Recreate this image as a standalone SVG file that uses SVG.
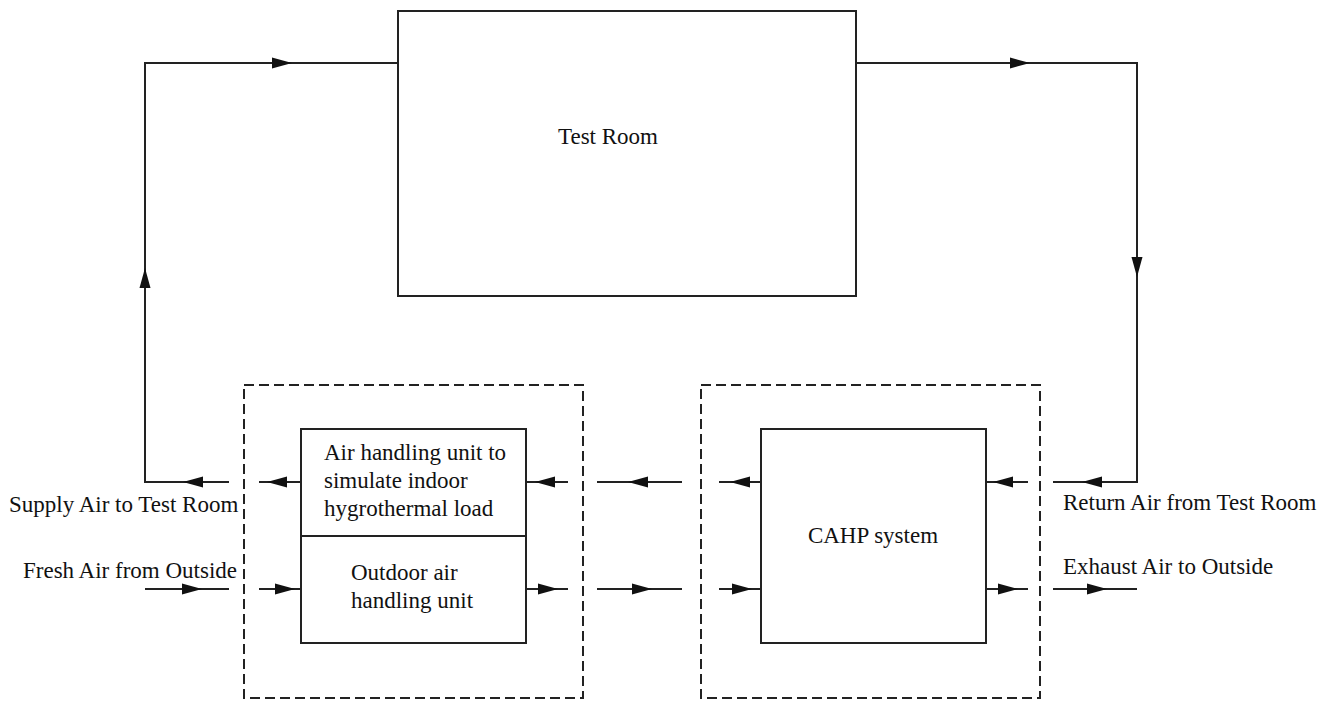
<svg xmlns="http://www.w3.org/2000/svg" xmlns:xlink="http://www.w3.org/1999/xlink" width="1336" height="702" viewBox="0 0 1336 702">
  <style>
    .box { fill: #fff; stroke: #222; stroke-width: 2; }
    .dash { fill: none; stroke: #222; stroke-width: 2; stroke-dasharray: 10 5; }
    .line { fill: none; stroke: #222; stroke-width: 2; }
    .lbl { font-family: "Liberation Serif", "Times New Roman", serif; font-size: 23px; fill: #111; }
    .mid { text-anchor: middle; }
  </style>
  <defs>
    <!-- arrowhead pointing right, tip at origin -->
    <path id="ah" d="M0,0 L-20,-5.5 L-20,5.5 Z" fill="#111"/>
  </defs>

  <rect width="1336" height="702" fill="#fff"/>

  <!-- dashed enclosures -->
  <g id="enclosure-left">
    <rect class="dash" x="244" y="385" width="339" height="313"/>
  </g>
  <g id="enclosure-right">
    <rect class="dash" x="701" y="385" width="339" height="313"/>
  </g>

  <g id="test-room">
    <rect class="box" x="398" y="11" width="458" height="285"/>
    <text class="lbl mid" x="608" y="144">Test Room</text>
  </g>

  <g id="ahu">
    <rect class="box" x="301" y="429" width="225" height="214"/>
    <line class="line" x1="301" y1="536" x2="526" y2="536"/>
    <text class="lbl" x="324" y="460">Air handling unit to</text>
    <text class="lbl" x="324" y="488">simulate indoor</text>
    <text class="lbl" x="324" y="516">hygrothermal load</text>
    <text class="lbl" x="351" y="580">Outdoor air</text>
    <text class="lbl" x="351" y="608">handling unit</text>
  </g>

  <g id="cahp">
    <rect class="box" x="761" y="429" width="225" height="214"/>
    <text class="lbl mid" x="873" y="543">CAHP system</text>
  </g>

  <g id="labels">
    <text class="lbl" x="9" y="512">Supply Air to Test Room</text>
    <text class="lbl" x="23" y="578">Fresh Air from Outside</text>
    <text class="lbl" x="1063" y="510">Return Air from Test Room</text>
    <text class="lbl" x="1063" y="574">Exhaust Air to Outside</text>
  </g>

  <g id="connectors">
    <!-- supply loop up to the test room -->
    <polyline class="line" points="229,482 145,482 145,63 398,63"/>
    <!-- return loop from the test room -->
    <polyline class="line" points="856,63 1137,63 1137,482 1053,482"/>
    <!-- upper (return/supply) air row -->
    <line class="line" x1="259" y1="482" x2="301" y2="482"/>
    <line class="line" x1="526" y1="482" x2="568" y2="482"/>
    <line class="line" x1="597" y1="482" x2="682" y2="482"/>
    <line class="line" x1="719" y1="482" x2="761" y2="482"/>
    <line class="line" x1="986" y1="482" x2="1028" y2="482"/>
    <!-- lower (fresh/exhaust) air row -->
    <line class="line" x1="145" y1="589" x2="229" y2="589"/>
    <line class="line" x1="259" y1="589" x2="301" y2="589"/>
    <line class="line" x1="526" y1="589" x2="568" y2="589"/>
    <line class="line" x1="597" y1="589" x2="682" y2="589"/>
    <line class="line" x1="719" y1="589" x2="761" y2="589"/>
    <line class="line" x1="986" y1="589" x2="1028" y2="589"/>
    <line class="line" x1="1053" y1="589" x2="1137" y2="589"/>

    <!-- arrowheads -->
    <use xlink:href="#ah" transform="translate(292,63)"/>
    <use xlink:href="#ah" transform="translate(1030,63)"/>
    <use xlink:href="#ah" transform="translate(145,268) rotate(-90)"/>
    <use xlink:href="#ah" transform="translate(1137,277) rotate(90)"/>

    <use xlink:href="#ah" transform="translate(1082,482) rotate(180)"/>
    <use xlink:href="#ah" transform="translate(993,482) rotate(180)"/>
    <use xlink:href="#ah" transform="translate(730,482) rotate(180)"/>
    <use xlink:href="#ah" transform="translate(628,482) rotate(180)"/>
    <use xlink:href="#ah" transform="translate(535,482) rotate(180)"/>
    <use xlink:href="#ah" transform="translate(267,482) rotate(180)"/>
    <use xlink:href="#ah" transform="translate(183,482) rotate(180)"/>

    <use xlink:href="#ah" transform="translate(202,589)"/>
    <use xlink:href="#ah" transform="translate(295,589)"/>
    <use xlink:href="#ah" transform="translate(558,589)"/>
    <use xlink:href="#ah" transform="translate(652,589)"/>
    <use xlink:href="#ah" transform="translate(752,589)"/>
    <use xlink:href="#ah" transform="translate(1018,589)"/>
    <use xlink:href="#ah" transform="translate(1107,589)"/>
  </g>
</svg>
